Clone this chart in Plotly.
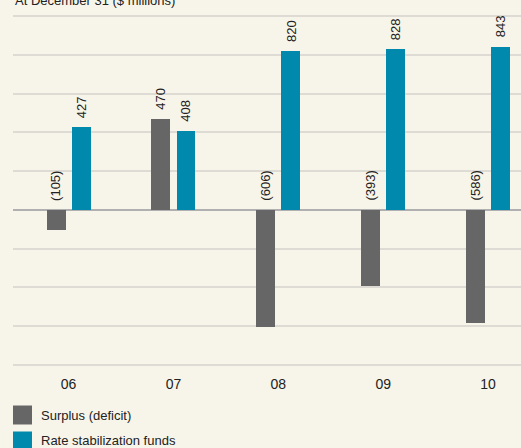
import plotly.graph_objects as go

categories = ["06", "07", "08", "09", "10"]
surplus = [-105, 470, -606, -393, -586]
rate_funds = [427, 408, 820, 828, 843]
surplus_labels = ["(105)", "470", "(606)", "(393)", "(586)"]
funds_labels = ["427", "408", "820", "828", "843"]
series_names = ["Surplus (deficit)", "Rate stabilization funds"]
series_colors = ["#666666", "#0088ad"]

xs = list(range(len(categories)))
W = 0.181
OFF_G = -0.21
OFF_B = 0.029
FONT = "Liberation Sans, Arial, sans-serif"
BG = "#f7f5ea"

fig = go.Figure()
fig.add_trace(go.Bar(x=xs, y=surplus, name=series_names[0], marker_color=series_colors[0],
                     width=W, offset=OFF_G, marker_line_width=0))
fig.add_trace(go.Bar(x=xs, y=rate_funds, name=series_names[1], marker_color=series_colors[1],
                     width=W, offset=OFF_B, marker_line_width=0))

lab_font = dict(family=FONT, size=13, color="#222222")
for i in xs:
    v = surplus[i]
    fig.add_annotation(x=i + OFF_G + W / 2, y=max(v, 0), text=surplus_labels[i], textangle=-90,
                       showarrow=False, xanchor="center", yanchor="bottom", yshift=7, font=lab_font)
    v = rate_funds[i]
    fig.add_annotation(x=i + OFF_B + W / 2, y=max(v, 0), text=funds_labels[i], textangle=-90,
                       showarrow=False, xanchor="center", yanchor="bottom", yshift=7, font=lab_font)

H = 448
T, B, L = 15, 82, 13
PH = H - T - B
PW = 521 - L

# title at the top edge (partially cut in the reference)
fig.add_annotation(xref="paper", yref="paper", x=0.0, y=1.0, yshift=5, text="At December 31 ($ millions)",
                   showarrow=False, xanchor="left", yanchor="bottom", font=lab_font)

# custom legend: large squares with labels (pixel positions converted to paper coords)
legend_y = [415, 441]
for name, color, yc in zip(series_names, series_colors, legend_y):
    y0 = -((yc + 9.5) - (H - B)) / PH
    y1 = -((yc - 9.5) - (H - B)) / PH
    fig.add_shape(type="rect", xref="paper", yref="paper", x0=0.0, x1=19 / PW,
                  y0=y0, y1=y1, line_width=0, fillcolor=color)
    fig.add_annotation(xref="paper", yref="paper", x=26 / PW, y=-(yc - (H - B)) / PH,
                       text=name, showarrow=False, xanchor="left", yanchor="middle",
                       font=dict(family=FONT, size=13, color="#222222"))

fig.update_layout(
    width=521, height=448,
    margin=dict(l=L, r=0, t=T, b=B, autoexpand=False),
    paper_bgcolor=BG, plot_bgcolor=BG,
    showlegend=False,
    xaxis=dict(range=[-0.53, 4.314], tickvals=xs, ticktext=categories, showgrid=False,
               zeroline=False, showline=False, ticks="", ticklabelstandoff=8,
               tickfont=dict(family=FONT, size=14, color="#222222")),
    yaxis=dict(range=[-806, 1006], tick0=0, dtick=200, showgrid=True, gridcolor="#dddbd3", gridwidth=1.5,
               zeroline=True, zerolinecolor="#b0b0b0", zerolinewidth=2, showticklabels=False, ticks=""),
    bargap=0,
)

fig.write_html("out.html", config={"displayModeBar": False},
               post_script="document.body.style.margin='0';document.body.style.background='%s';"
                           "document.body.style.overflow='hidden';" % BG)
